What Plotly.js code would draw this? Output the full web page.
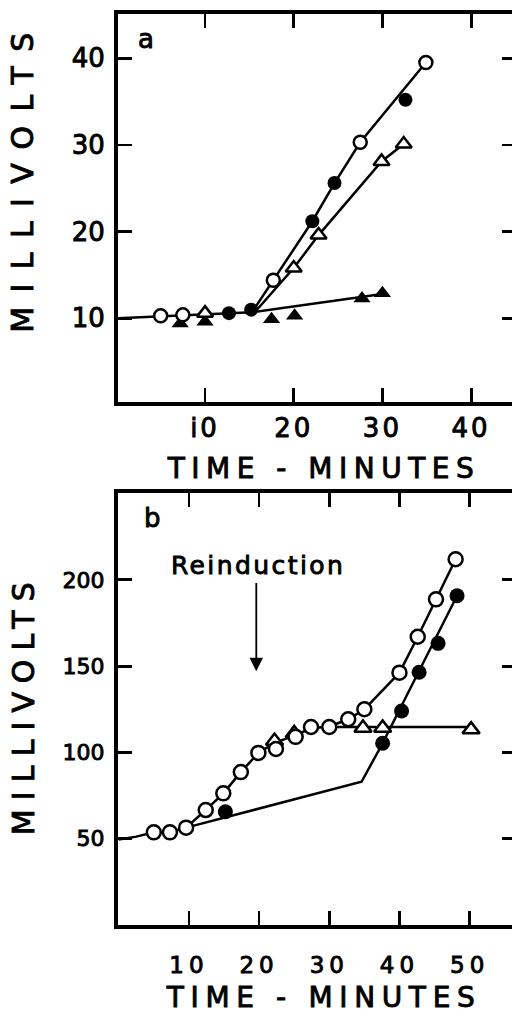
<!DOCTYPE html>
<html>
<head>
<meta charset="utf-8">
<script src="https://cdn.plot.ly/plotly-3.0.1.min.js"></script>
<style>
html,body{margin:0;padding:0;overflow:hidden;background:#fff;}
#chart{width:520px;height:1017px;}
.annotation-text, .xtick text, .ytick text, .x2tick text, .y2tick text {
  stroke:#000; stroke-width:0.9px; paint-order:stroke;
}
</style>
</head>
<body>
<div id="chart"></div>
<script>
// ---------- Panel a data ----------
var aOpenCircX = [5, 7.5, 17.7, 27.5, 34.9];
var aOpenCircY = [10.3, 10.4, 14.4, 30.3, 39.5];
var aFillCircX = [12.7, 15.2, 22.1, 24.6, 32.6];
var aFillCircY = [10.6, 11.0, 21.2, 25.6, 35.2];
var aOpenTriX = [10, 20, 22.8, 29.9, 32.4];
var aOpenTriY = [10.6, 15.8, 19.6, 28.1, 30.1];
var aFillTriX = [7.2, 10, 17.5, 20.1, 27.7, 30];
var aFillTriY = [9.4, 9.6, 9.9, 10.3, 12.3, 12.9];
// fitted lines, panel a
var aBaseX = [0, 15.3];
var aBaseY = [10.0, 10.7];
var aCircLineX = [15.3, 17.7, 22.1, 24.6, 27.5, 34.9];
var aCircLineY = [10.7, 14.4, 21.2, 25.6, 30.3, 39.5];
var aTriLineX = [15.6, 20, 22.8, 29.9, 32.4];
var aTriLineY = [10.7, 15.8, 19.6, 28.1, 30.1];
var aFlatLineX = [15.3, 30];
var aFlatLineY = [10.7, 12.8];

// ---------- Panel b data ----------
var bOpenCircX = [5, 7.3, 9.6, 12.4, 14.9, 17.4, 19.9, 22.4, 25.2, 27.4, 30, 32.7, 35, 40, 42.6, 45.2, 48];
var bOpenCircY = [53.7, 53.7, 56.4, 66.6, 76.3, 88.6, 99.7, 102, 109, 114.7, 114.7, 119.2, 125, 146.2, 167, 188.7, 211.9];
var bFillCircX = [15.2, 37.6, 40.3, 42.8, 45.5, 48.2];
var bFillCircY = [65.6, 105.3, 124, 146.4, 163.2, 190.8];
var bOpenTriX = [22.2, 25, 34.8, 37.6, 50.2];
var bOpenTriY = [106.6, 111, 114.2, 114.2, 113.2];
// fitted lines, panel b
var bBaseX = [0, 2.5, 5, 7.3, 9.6];
var bBaseY = [49.5, 51.2, 53.7, 53.7, 56.4];
var bCircLineX = [9.6, 12.4, 14.9, 17.4, 19.9, 22.2, 25.2, 27.4, 30, 32.7, 35, 40, 42.6, 45.2, 48];
var bCircLineY = [56.4, 66.6, 76.3, 88.6, 99.7, 105.5, 110, 114, 115, 119.2, 125, 146.2, 167, 188.7, 211.9];
var bFlatLineX = [30, 50.2];
var bFlatLineY = [114.7, 114.7];
var bFillLineX = [9.6, 34.6, 37.6, 48.2];
var bFillLineY = [56.4, 83, 105.3, 190.8];

// ---------- tick labels ----------
var aXTickVals = [10, 20, 30, 40];
var aXTickText = ['i0', '20', '30', '40'];
var aYTickVals = [10, 20, 30, 40];
var aYTickText = ['10', '20', '30', '40'];
var bXTickVals = [10, 20, 30, 40, 50];
var bXTickText = ['10', '20', '30', '40', '50'];
var bYTickVals = [50, 100, 150, 200];
var bYTickText = ['50', '100', '150', '200'];

var K = '#000';
function line(x, y, xa, ya) {
  return {x: x, y: y, xaxis: xa, yaxis: ya, type: 'scatter', mode: 'lines',
          line: {color: K, width: 2.5}, hoverinfo: 'skip', showlegend: false};
}
function pts(x, y, xa, ya, sym, size) {
  var open = sym.indexOf('open') >= 0;
  return {x: x, y: y, xaxis: xa, yaxis: ya, type: 'scatter', mode: 'markers', showlegend: false,
          marker: {symbol: open ? sym.replace('-open', '') : sym, size: size,
                   color: open ? '#fff' : K, line: {color: K, width: open ? 2.5 : 0}}};
}

var traces = [
  line(aBaseX, aBaseY, 'x', 'y'),
  line(aCircLineX, aCircLineY, 'x', 'y'),
  line(aTriLineX, aTriLineY, 'x', 'y'),
  line(aFlatLineX, aFlatLineY, 'x', 'y'),
  pts(aFillTriX, aFillTriY, 'x', 'y', 'triangle-up', 15),
  pts(aOpenTriX, aOpenTriY, 'x', 'y', 'triangle-up-open', 14),
  pts(aFillCircX, aFillCircY, 'x', 'y', 'circle', 14),
  pts(aOpenCircX, aOpenCircY, 'x', 'y', 'circle-open', 13),

  line(bBaseX, bBaseY, 'x2', 'y2'),
  line(bCircLineX, bCircLineY, 'x2', 'y2'),
  line(bFlatLineX, bFlatLineY, 'x2', 'y2'),
  line(bFillLineX, bFillLineY, 'x2', 'y2'),
  pts(bOpenTriX, bOpenTriY, 'x2', 'y2', 'triangle-up-open', 15),
  pts(bFillCircX, bFillCircY, 'x2', 'y2', 'circle', 15),
  pts(bOpenCircX, bOpenCircY, 'x2', 'y2', 'circle-open', 14)
];

var W = 520, H = 1017;
function px(v) { return v / W; }
function py(v) { return 1 - v / H; }

function axisCommon(extra) {
  var o = {showgrid: false, zeroline: false, showline: true, linecolor: K, linewidth: 4,
           mirror: 'ticks', ticks: 'inside', ticklen: 14, tickwidth: 2.8, tickcolor: K,
           tickmode: 'array', fixedrange: true,
           tickfont: {family: 'DejaVu Sans', size: 26, color: K}};
  for (var k in extra) o[k] = extra[k];
  return o;
}

var TF = {family: 'DejaVu Sans', size: 28, color: K};
var VF = {family: 'DejaVu Sans', size: 30, color: K};

var layout = {
  width: W, height: H,
  margin: {l: 0, r: 0, t: 0, b: 0},
  paper_bgcolor: '#fff', plot_bgcolor: '#fff',
  showlegend: false,
  xaxis: axisCommon({domain: [px(118), px(516)], range: [0.19, 45.06], anchor: 'y',
                     tickvals: aXTickVals, ticktext: aXTickText, ticklabelstandoff: 0}),
  yaxis: axisCommon({domain: [py(402), py(14)], range: [0.35, 45.1], anchor: 'x',
                     tickvals: aYTickVals, ticktext: aYTickText, ticklabelstandoff: 4}),
  xaxis2: axisCommon({domain: [px(118), px(516)], range: [-0.1, 56.6], anchor: 'y2',
                      tickvals: bXTickVals, ticktext: bXTickText, ticklabelstandoff: 16,
                      tickfont: {family: 'DejaVu Sans', size: 23, color: K}}),
  yaxis2: axisCommon({domain: [py(925), py(493)], range: [0, 250.3], anchor: 'x2',
                      tickvals: bYTickVals, ticktext: bYTickText, ticklabelstandoff: 5,
                      tickfont: {family: 'DejaVu Sans', size: 22, color: K}}),
  annotations: [
    {text: 'MILLIVOLTS', xref: 'paper', yref: 'paper', x: px(23), y: py(183), textangle: -90,
     showarrow: false, xanchor: 'center', yanchor: 'middle', font: VF},
    {text: 'TIME - MINUTES', xref: 'paper', yref: 'paper', x: px(320), y: py(468),
     showarrow: false, xanchor: 'center', yanchor: 'middle', font: TF},
    {text: 'MILLIVOLTS', xref: 'paper', yref: 'paper', x: px(23), y: py(709), textangle: -90,
     showarrow: false, xanchor: 'center', yanchor: 'middle', font: VF},
    {text: 'TIME - MINUTES', xref: 'paper', yref: 'paper', x: px(320), y: py(997),
     showarrow: false, xanchor: 'center', yanchor: 'middle', font: TF},
    {text: 'a', xref: 'x', yref: 'y', x: 3.4, y: 42.2, showarrow: false,
     xanchor: 'center', yanchor: 'middle', font: {family: 'DejaVu Sans', size: 26, color: K}},
    {text: 'b', xref: 'x2', yref: 'y2', x: 4.8, y: 236, showarrow: false,
     xanchor: 'center', yanchor: 'middle', font: {family: 'DejaVu Sans', size: 26, color: K}},
    {text: 'Reinduction', xref: 'x2', yref: 'y2', x: 19.7, y: 208.5, showarrow: false,
     xanchor: 'center', yanchor: 'middle', font: {family: 'DejaVu Sans', size: 25, color: K}},
    {text: '', xref: 'x2', yref: 'y2', x: 19.6, y: 147, axref: 'x2', ayref: 'y2', ax: 19.6, ay: 199,
     showarrow: true, arrowhead: 2, arrowsize: 1.5, arrowwidth: 1.8, arrowcolor: K, standoff: 0}
  ]
};

var targets = [
  {t: 'MILLIVOLTS', len: [300, 253]},
  {t: 'TIME - MINUTES', len: [306, 308]},
  {t: 'Reinduction', len: [172]}
];

Plotly.newPlot('chart', traces, layout, {staticPlot: true, displayModeBar: false}).then(function () {
  var counters = {};
  document.querySelectorAll('.annotation-text').forEach(function (el) {
    var txt = el.textContent;
    targets.forEach(function (tg) {
      if (tg.t === txt) {
        var i = counters[txt] || 0; counters[txt] = i + 1;
        var want = tg.len[Math.min(i, tg.len.length - 1)];
        var have = el.getComputedTextLength();
        var n = txt.length - 1;
        var sp = (want - have) / n;
        el.style.letterSpacing = sp + 'px';
        el.setAttribute('dx', (sp / 2).toFixed(1));
      }
    });
  });
  document.querySelectorAll('.xtick text').forEach(function (el) {
    el.style.letterSpacing = '3px';
  });
  document.querySelectorAll('.x2tick text').forEach(function (el) {
    el.style.letterSpacing = '5px';
  });
});
</script>
</body>
</html>
